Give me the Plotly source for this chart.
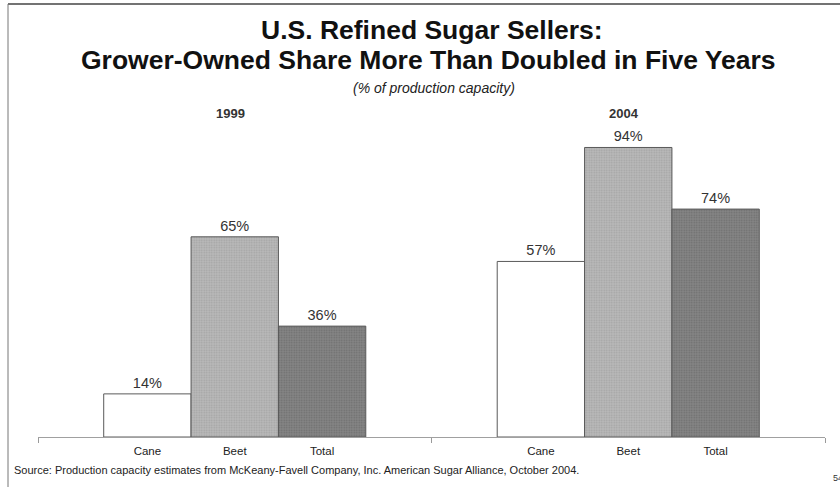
import plotly.graph_objects as go

# ---- data ----
years = ["1999", "2004"]
categories = ["Cane", "Beet", "Total"]
values_1999 = [14, 65, 36]
values_2004 = [57, 94, 74]

title_line1 = "U.S. Refined Sugar Sellers:"
title_line2 = "Grower-Owned Share More Than Doubled in Five Years"
subtitle = "(% of production capacity)"
source = ("Source: Production capacity estimates from McKeany-Favell Company, Inc. "
          "American Sugar Alliance, October 2004.")

# ---- styling ----
W, H = 840, 487
ML, MR, MT, MB = 38, 15, 129, 50
BAR_W = 0.222
fills = {"Cane": "#ffffff", "Beet": "#b9b9b9", "Total": "#858585"}
dots = {"Cane": "#ffffff", "Beet": "#8e8e8e", "Total": "#555555"}
shapes_pat = {"Cane": "", "Beet": ".", "Total": "."}

def px_to_py(y):
    return (H - MB - y) / (H - MT - MB)

def px_to_px(x):
    return (x - ML) / (W - ML - MR)

fig = go.Figure()
series = {c: [values_1999[i], values_2004[i]] for i, c in enumerate(categories)}
for ci, c in enumerate(categories):
    off = (ci - 1) * BAR_W
    xs = [gi + off for gi in range(len(years))]
    fig.add_trace(go.Bar(
        x=xs, y=series[c], width=BAR_W, name=c,
        marker=dict(color=fills[c],
                    line=dict(color="#5a5a5a", width=1),
                    pattern=dict(shape=shapes_pat[c], fgcolor=dots[c],
                                 bgcolor=fills[c], size=2.5, solidity=0.35)),
        text=[f"{v}%" for v in series[c]], textposition="outside",
        textfont=dict(family="Liberation Sans, Arial", size=14.5, color="#333333"),
        cliponaxis=False, showlegend=False, hoverinfo="skip",
    ))

tickvals, ticktext = [], []
for gi in range(len(years)):
    for ci, c in enumerate(categories):
        tickvals.append(gi + (ci - 1) * BAR_W)
        ticktext.append(c)

TFONT = "Liberation Sans, Arial"
annotations = [
    dict(text=f"<b>{title_line1}</b>", x=px_to_px(432), y=px_to_py(30), xref="paper", yref="paper",
         xanchor="center", yanchor="middle", showarrow=False,
         font=dict(family=TFONT, size=26.5, color="#111111")),
    dict(text=f"<b>{title_line2}</b>", x=px_to_px(428), y=px_to_py(60), xref="paper", yref="paper",
         xanchor="center", yanchor="middle", showarrow=False,
         font=dict(family=TFONT, size=26.5, color="#111111")),
    dict(text=f"<i>{subtitle}</i>", x=px_to_px(434), y=px_to_py(88), xref="paper", yref="paper",
         xanchor="center", yanchor="middle", showarrow=False,
         font=dict(family=TFONT, size=14, color="#222222")),
    dict(text=source, x=px_to_px(12), y=px_to_py(470), xref="paper", yref="paper",
         xanchor="left", yanchor="middle", showarrow=False,
         font=dict(family=TFONT, size=11, color="#222222")),
    dict(text="54", x=px_to_px(831), y=px_to_py(478), xref="paper", yref="paper",
         xanchor="left", yanchor="middle", showarrow=False,
         font=dict(family=TFONT, size=9, color="#333333")),
]
for gi, yr in enumerate(years):
    annotations.append(dict(text=f"<b>{yr}</b>", x=gi, y=px_to_py(113), xref="x", yref="paper",
                            xanchor="center", yanchor="middle", xshift=-4, showarrow=False,
                            font=dict(family=TFONT, size=13, color="#333333")))

shapes = [
    dict(type="line", xref="paper", yref="paper", x0=px_to_px(8), x1=px_to_px(840),
         y0=px_to_py(4), y1=px_to_py(4), line=dict(color="#444444", width=1.5)),
    dict(type="line", xref="paper", yref="paper", x0=px_to_px(8), x1=px_to_px(8),
         y0=px_to_py(4), y1=px_to_py(487), line=dict(color="#777777", width=1)),
]

fig.update_layout(
    width=W, height=H,
    margin=dict(l=ML, r=MR, t=MT, b=MB),
    paper_bgcolor="white", plot_bgcolor="white",
    barmode="overlay",
    xaxis=dict(range=[-0.5, 1.5], tickvals=tickvals, ticktext=ticktext,
               showgrid=False, zeroline=False, showline=True, linecolor="#a0a0a0", linewidth=1,
               ticks="", ticklabelstandoff=3,
               tickfont=dict(family=TFONT, size=11.5, color="#222222"),
               minor=dict(tickvals=[-0.5, 0.5, 1.5], ticks="outside", ticklen=5, tickcolor="#9a9a9a"),
               fixedrange=True),
    yaxis=dict(range=[0, 100], visible=False, fixedrange=True),
    annotations=annotations, shapes=shapes,
)

fig.write_html("out.html", config={"displayModeBar": False},
               post_script="document.body.style.margin='0';document.body.style.overflow='hidden';")
